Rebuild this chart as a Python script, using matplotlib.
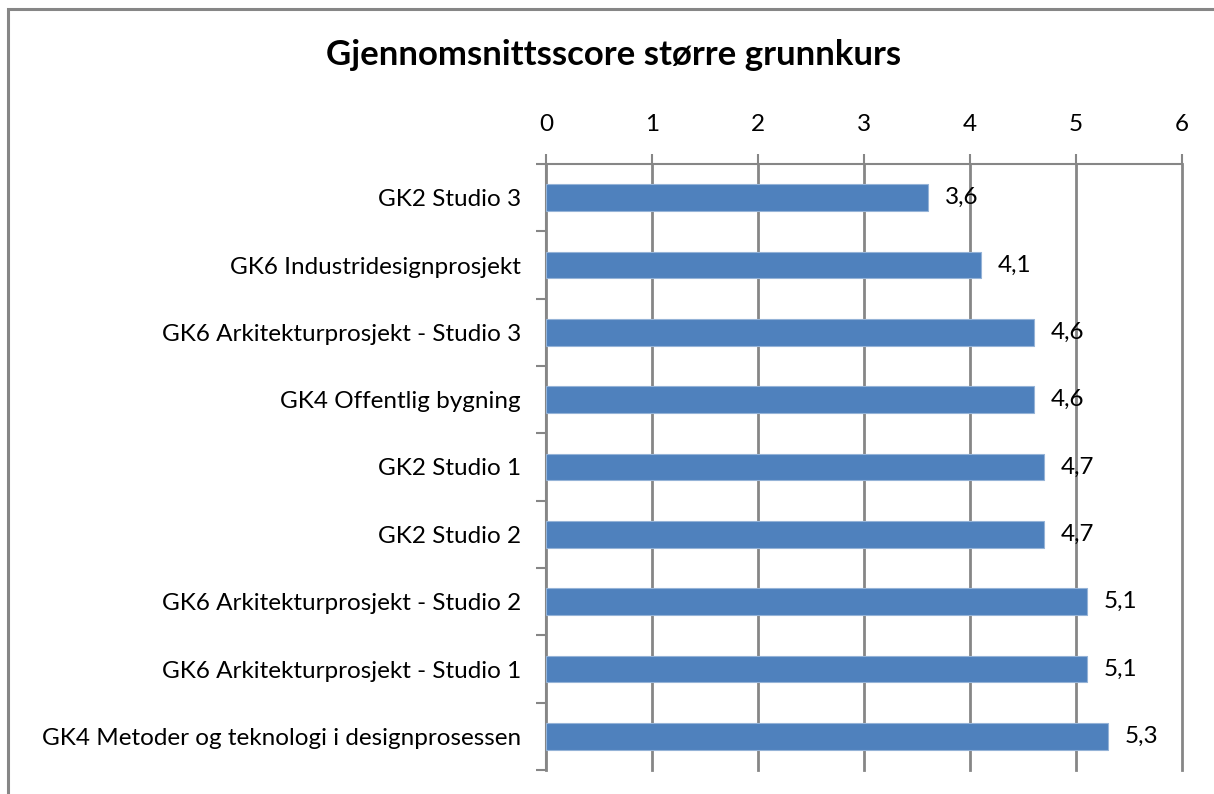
import matplotlib.pyplot as plt
from matplotlib.patches import Rectangle

categories = ["GK2 Studio 3",
              "GK6 Industridesignprosjekt",
              "GK6 Arkitekturprosjekt - Studio 3",
              "GK4 Offentlig bygning",
              "GK2 Studio 1",
              "GK2 Studio 2",
              "GK6 Arkitekturprosjekt - Studio 2",
              "GK6 Arkitekturprosjekt - Studio 1",
              "GK4 Metoder og teknologi i designprosessen"]
values = [3.6, 4.1, 4.6, 4.6, 4.7, 4.7, 5.1, 5.1, 5.3]
x_ticks = [0, 1, 2, 3, 4, 5, 6]

plt.rcParams['font.family'] = ['Lato', 'DejaVu Sans']

fig = plt.figure(figsize=(12.14, 7.94), dpi=100)
ax = fig.add_axes([546 / 1214, 24 / 794, (1182 - 546) / 1214, (770 - 164) / 794])

# outer chart border
fig.patches.append(Rectangle((7.5 / 1214, -0.05), 1.1, (794 - 8.5) / 794 + 0.05,
                             transform=fig.transFigure, fill=False,
                             edgecolor="#868686", linewidth=2.2))

pos = list(range(len(categories)))
ax.barh(pos, values, height=0.4, color="#4F81BD", edgecolor="#95B3D7",
        linewidth=0.8, zorder=3)

for p, v in zip(pos, values):
    ax.text(v + 0.16, p, f"{v:.1f}".replace(".", ","), va="center", ha="left",
            fontsize=17.5, zorder=4)

ax.set_xlim(0, 6)
ax.set_ylim(len(categories) - 0.5, -0.5)
ax.xaxis.tick_top()
ax.set_xticks(x_ticks)
ax.set_xticklabels([str(t) for t in x_ticks], fontsize=17.5)
ax.tick_params(axis="x", length=7, width=1.5, color="#868686", pad=14)

ax.set_yticks([p - 0.5 for p in pos] + [len(categories) - 0.5])
ax.set_yticklabels([])
ax.set_yticks(pos, minor=True)
ax.set_yticklabels(categories, minor=True, fontsize=17.5)
ax.tick_params(axis="y", which="major", length=7, width=1.5, color="#868686")
ax.tick_params(axis="y", which="minor", length=0, pad=18)

ax.grid(axis="x", color="#868686", linewidth=2, zorder=0)
for gl in ax.get_xgridlines():
    gl.set_clip_on(False)
for side in ["right", "bottom"]:
    ax.spines[side].set_visible(False)
for side in ["top", "left"]:
    ax.spines[side].set_color("#868686")
    ax.spines[side].set_linewidth(1.5)

fig.text(614 / 1214, 1 - 55 / 794, "Gjennomsnittsscore større grunnkurs",
         ha="center", va="center", fontsize=25, fontweight="bold")

fig.savefig("out.png", dpi=100)
